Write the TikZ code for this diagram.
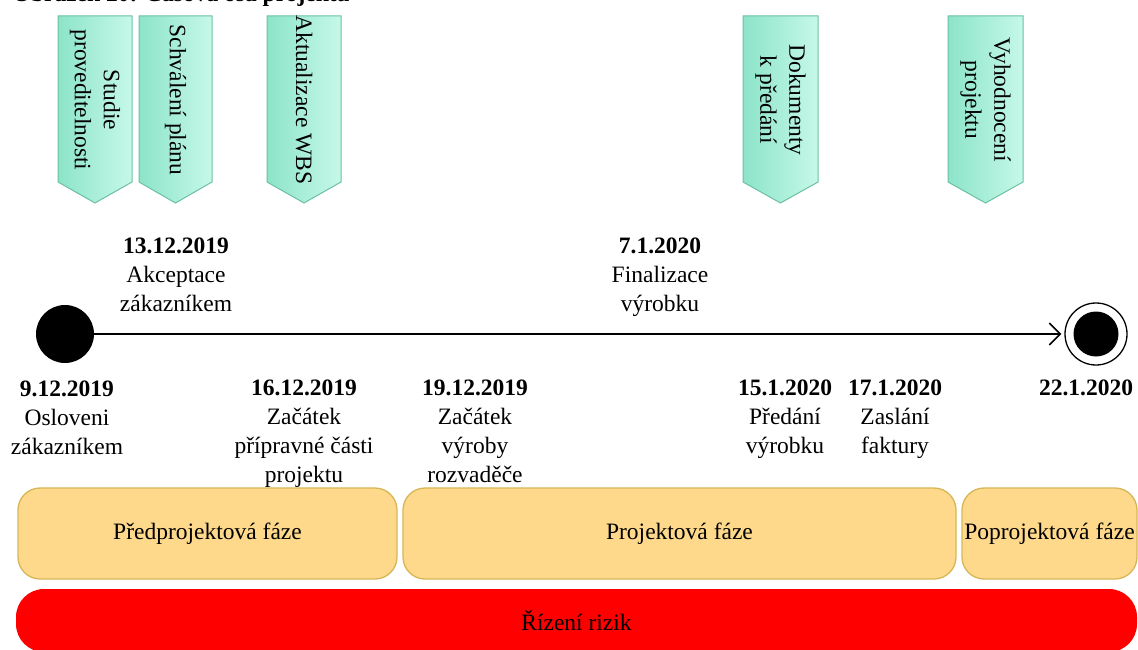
\documentclass[tikz,border=0pt]{standalone}
\usepackage{fontspec}
\setmainfont{Liberation Serif}
\usetikzlibrary{arrows.meta}
\definecolor{tagL}{RGB}{140,228,200}
\definecolor{tagR}{RGB}{198,248,233}
\definecolor{tagline}{RGB}{108,192,162}
\definecolor{phasefill}{RGB}{254,217,140}
\definecolor{phaseline}{RGB}{214,182,86}

\begin{document}
\begin{tikzpicture}[x=1pt,y=-1pt,
  lab/.style={align=center,font=\fontsize{23.5}{29}\selectfont,inner sep=0pt},
  phase/.style={draw=phaseline,fill=phasefill,line width=1.3pt,rounded corners=22pt,
    minimum height=91pt,inner sep=0pt,font=\fontsize{23.5}{29}\selectfont}]
\useasboundingbox (0,0) rectangle (1138,650);
\node[anchor=base east,inner sep=0pt,font=\fontsize{23.5}{29}\selectfont\bfseries] (caption) at (350,2) {Obrázek 20: Časová osa projektu};
\foreach \xl/\xr/\n/\t in {58/132/tstudie/{Studie\\proveditelnosti},139/212/tplan/{Schválení plánu},267/341/twbs/{Aktualizace WBS},743/818/tdok/{Dokumenty\\k předání},948/1023/tvyh/{Vyhodnocení\\projektu}}{
  \path[draw=tagline,line width=1pt,left color=tagL,right color=tagR] (\xl,16) -- (\xr,16) -- (\xr,182) -- ({(\xl+\xr)/2},203) -- (\xl,182) -- cycle;
  \node[lab,rotate=-90] (\n) at ({(\xl+\xr)/2},100) {\t};
}
\node[circle,fill=black,minimum size=58pt,inner sep=0pt] (start) at (65,334) {};
\node[circle,draw=black,line width=1.3pt,minimum size=62pt,inner sep=0pt] (end) at (1096,334) {};
\node[circle,fill=black,minimum size=45pt,inner sep=0pt] (endin) at (end) {};
\draw[line width=1.5pt,-{Straight Barb[length=11pt,width=22pt]},shorten >=3pt] (start) -- (end);
\node[lab,anchor=north] (d1312) at (176,238) {\textbf{13.12.2019}\\Akceptace\\zákazníkem};
\node[lab,anchor=north] (d0701) at (660,238) {\textbf{7.1.2020}\\Finalizace\\výrobku};
\node[lab,anchor=north] (d0912) at (67,381) {\textbf{9.12.2019}\\Osloveni\\zákazníkem};
\node[lab,anchor=north] (d1612) at (304,380) {\textbf{16.12.2019}\\Začátek\\přípravné části\\projektu};
\node[lab,anchor=north] (d1912) at (475,380) {\textbf{19.12.2019}\\Začátek\\výroby\\rozvaděče};
\node[lab,anchor=north] (d1501) at (785,380) {\textbf{15.1.2020}\\Předání\\výrobku};
\node[lab,anchor=north] (d1701) at (895,380) {\textbf{17.1.2020}\\Zaslání\\faktury};
\node[lab,anchor=north] (d2201) at (1086,380) {\textbf{22.1.2020}};
\node[phase,minimum width=379pt] (pre) at (207.5,533.5) {Předprojektová fáze};
\node[phase,minimum width=553pt] (proj) at (679.5,533.5) {Projektová fáze};
\node[phase,minimum width=175pt] (post) at (1049.5,533.5) {Poprojektová fáze};
\node[fill=red,rounded corners=28pt,minimum width=1121pt,minimum height=63pt,inner sep=0pt,
  font=\fontsize{23.5}{29}\selectfont] (risk) at (576.5,620.5) {Řízení rizik};
\end{tikzpicture}
\end{document}
